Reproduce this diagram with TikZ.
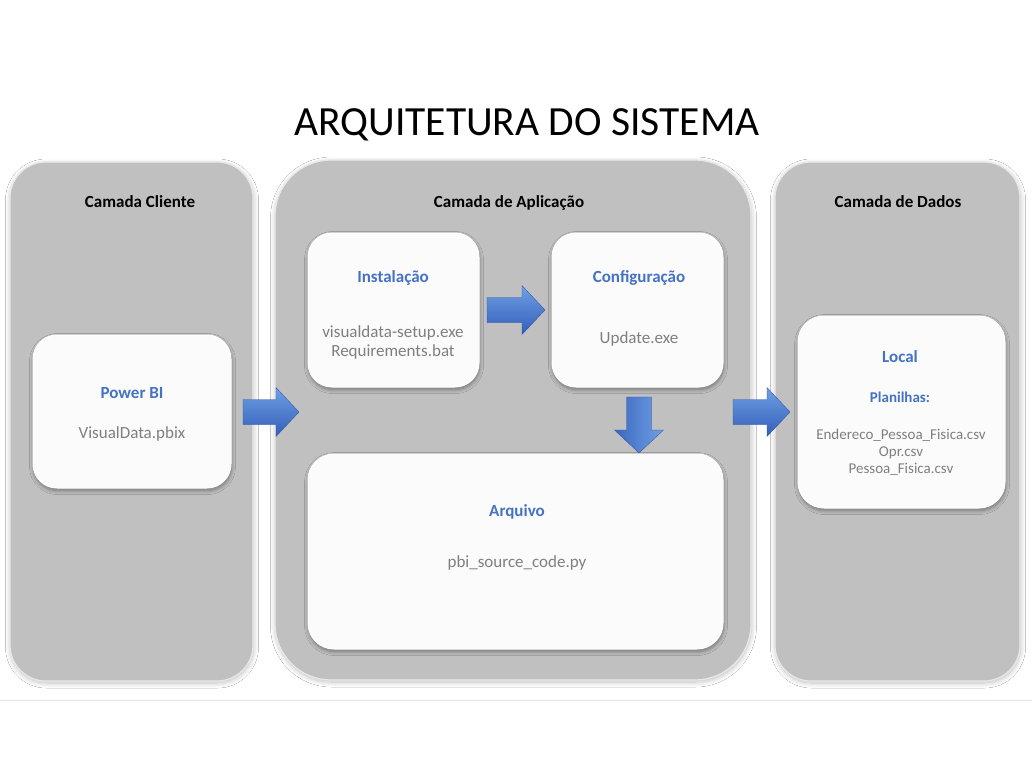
\documentclass[tikz,border=0pt]{standalone}
\usepackage{fontspec}
\setmainfont{Carlito}
\usetikzlibrary{calc,shadows.blur}
\definecolor{colgray}{RGB}{192,192,192}
\definecolor{colrim}{RGB}{232,232,232}
\definecolor{cardfill}{RGB}{251,251,251}
\definecolor{txtblue}{RGB}{68,114,196}
\definecolor{txtgray}{RGB}{127,127,127}
\definecolor{arrlight}{RGB}{112,160,228}
\definecolor{arrdark}{RGB}{50,94,186}
\definecolor{linegray}{RGB}{230,230,230}
\tikzset{
  column/.style={rectangle, fill=colgray, draw=colrim, line width=1.2pt, inner sep=0pt,
    blur shadow={shadow xshift=0.5pt, shadow yshift=-2pt, shadow blur radius=5pt, shadow blur steps=10, shadow opacity=25}},
  card/.style={rectangle, fill=cardfill, draw=white, line width=1pt, inner sep=0pt,
    blur shadow={shadow xshift=0.5pt, shadow yshift=-2.5pt, shadow blur radius=4pt, shadow blur steps=10, shadow opacity=40}},
  coltitle/.style={font=\fontsize{17}{20}\selectfont\bfseries, text=black, anchor=base, inner sep=0pt},
  cardtitle/.style={font=\fontsize{17}{20}\selectfont\bfseries, text=txtblue, anchor=base, inner sep=0pt},
  cardtext/.style={font=\fontsize{17}{20}\selectfont, text=txtgray, anchor=base, inner sep=0pt},
  smalltitle/.style={font=\fontsize{15}{18}\selectfont\bfseries, text=txtblue, anchor=base, inner sep=0pt},
  smalltext/.style={font=\fontsize{15}{18}\selectfont, text=txtgray, anchor=base, inner sep=0pt},
  harrow/.style={top color=arrlight, bottom color=arrdark, draw=arrdark!85!black, line width=0.3pt},
  varrow/.style={left color=arrdark!85!arrlight, right color=arrlight, draw=arrdark!85!black, line width=0.3pt},
}
% block arrow from coordinate #1 to coordinate #2, style #3
\newcommand\blockarrow[3]{%
  \coordinate (ahb) at ($(#2)!23pt!(#1)$);
  \path[#3] ($(#1)!12.5pt!90:(#2)$) -- ($(ahb)!12.5pt!90:(#2)$) -- ($(ahb)!24.5pt!90:(#2)$)
    -- (#2) -- ($(ahb)!24.5pt!-90:(#2)$) -- ($(ahb)!12.5pt!-90:(#2)$)
    -- ($(#1)!12.5pt!-90:(#2)$) -- cycle;}
\begin{document}
\begin{tikzpicture}[x=1pt,y=-1pt]
  \useasboundingbox (0,0) rectangle (1032,772);
  \fill[white] (0,0) rectangle (1032,772);
  \coordinate (hl1) at (0,700);
  \coordinate (hl2) at (1032,700);
  \draw[linegray, line width=1pt] (hl1) -- (hl2);

  % title
  \node[font=\fontsize{41.5}{46}\selectfont, anchor=base, inner sep=0pt] (title) at (527,135) {ARQUITETURA DO SISTEMA};

  % columns
  \node[column, rounded corners=36pt, minimum width=243pt, minimum height=519pt] (client) at (131.5,421.5) {};
  \node[column, rounded corners=56pt, minimum width=476pt, minimum height=520pt] (app) at (513,420) {};
  \node[column, rounded corners=36pt, minimum width=245pt, minimum height=519pt] (data) at (897.5,421.5) {};

  \node[coltitle] (tclient) at (140,207) {Camada Cliente};
  \node[coltitle] (tapp) at (509,207) {Camada de Aplicação};
  \node[coltitle] (tdata) at (898,207) {Camada de Dados};

  % cards
  \node[card, rounded corners=24pt, minimum width=198pt, minimum height=153pt] (powerbi) at (132,411.5) {};
  \node[card, rounded corners=24pt, minimum width=171pt, minimum height=154pt] (inst) at (393.5,310) {};
  \node[card, rounded corners=24pt, minimum width=171pt, minimum height=154pt] (conf) at (637.5,310) {};
  \node[card, rounded corners=26pt, minimum width=415pt, minimum height=195pt] (arq) at (515.5,551.5) {};
  \node[card, rounded corners=26pt, minimum width=207pt, minimum height=192pt] (local) at (901.5,412) {};

  % card texts
  \node[cardtitle] (tpbi) at (132,398) {Power BI};
  \node[cardtext] (pbix) at (132,438) {VisualData.pbix};

  \node[cardtitle] (tinst) at (393,282) {Instalação};
  \node[cardtext] (setup) at (393,337) {visualdata-setup.exe};
  \node[cardtext] (req) at (393,356) {Requirements.bat};

  \node[cardtitle] (tconf) at (639,282) {Configuração};
  \node[cardtext] (upd) at (639,343) {Update.exe};

  \node[cardtitle] (tarq) at (517,516) {Arquivo};
  \node[cardtext] (src) at (517,567) {pbi\_source\_code.py};

  \node[cardtitle] (tloc) at (900,362) {Local};
  \node[smalltitle] (plan) at (900,402) {Planilhas:};
  \node[smalltext] (f1) at (901,439.5) {Endereco\_Pessoa\_Fisica.csv};
  \node[smalltext] (f2) at (901,456.5) {Opr.csv};
  \node[smalltext] (f3) at (901,473.5) {Pessoa\_Fisica.csv};

  % arrows
  \coordinate (a1s) at (243,412);  \coordinate (a1e) at (299,412);
  \coordinate (a2s) at (487,310);  \coordinate (a2e) at (545,310);
  \coordinate (a3s) at (639,397);  \coordinate (a3e) at (639,453);
  \coordinate (a4s) at (733,412);  \coordinate (a4e) at (790,412);
  \blockarrow{a1s}{a1e}{harrow}
  \blockarrow{a2s}{a2e}{harrow}
  \blockarrow{a3s}{a3e}{varrow}
  \blockarrow{a4s}{a4e}{harrow}
\end{tikzpicture}
\end{document}
